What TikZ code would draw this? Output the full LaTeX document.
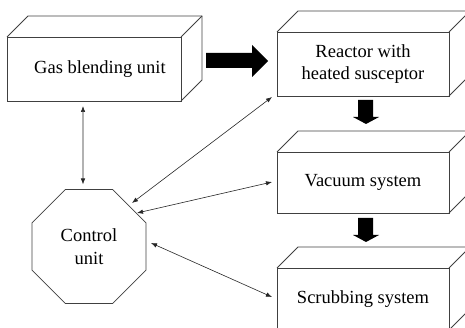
\documentclass[tikz,border=0pt]{standalone}
\usepackage{fontspec}
\setmainfont{Liberation Serif}
\usetikzlibrary{shapes.geometric,arrows.meta,calc}
\begin{document}
\begin{tikzpicture}[x=1pt,y=-1pt,
  boxline/.style={draw=black!75,line width=0.8pt},
  frontbox/.style={boxline,rectangle,inner sep=0pt,outer sep=0pt,align=center,
     font=\fontsize{18.5}{22.5}\selectfont},
  octa/.style={boxline,regular polygon,regular polygon sides=8,minimum size=123.4pt,
     inner sep=0pt,outer sep=0pt,align=center,font=\fontsize{18.5}{22.5}\selectfont},
  link/.style={draw=black!85,line width=0.6pt,{Latex[length=6pt,width=4.5pt]}-{Latex[length=6pt,width=4.5pt]}},
  blockarrow/.style={fill=black}
]
\useasboundingbox (0,0) rectangle (465,328);

% front faces
\node[frontbox,minimum width=174pt,minimum height=64pt] (gas) at (94,69) {\hspace*{12pt}Gas blending unit};
\node[frontbox,minimum width=172pt,minimum height=64pt] (reac) at (363,64) {Reactor with\\heated susceptor};
\node[frontbox,minimum width=172pt,minimum height=61pt] (vac) at (363,182.5) {\raisebox{3pt}{Vacuum system}};
\node[frontbox,minimum width=172pt,minimum height=62pt] (scrub) at (363,299) {\raisebox{-2pt}{Scrubbing system}};

% 3D top and side faces
\foreach \n in {gas,reac,vac,scrub}{
  \draw[boxline] (\n.north west) -- ++(21pt,21pt)
     -- ($(\n.north east)+(21pt,21pt)$) -- ($(\n.south east)+(21pt,21pt)$)
     -- (\n.south east);
  \draw[boxline] (\n.north east) -- ++(21pt,21pt);
}

% control unit
\node[octa] (ctrl) at (89,246.5) {Control\\unit};

% block arrows
\coordinate (bR) at (206,53);
\fill[blockarrow] (bR) -- ++(46,0) -- ++(0,-8) -- ++(16,16) -- ++(-16,16) -- ++(0,-9) -- ++(-46,0) -- cycle;
\coordinate (bD1) at (358,100);
\fill[blockarrow] (bD1) -- ++(15,0) -- ++(0,17) -- ++(6,0) -- ++(-13,7) -- ++(-13,-7) -- ++(5,0) -- cycle;
\coordinate (bD2) at (358,218);
\fill[blockarrow] (bD2) -- ++(15,0) -- ++(0,17) -- ++(6,0) -- ++(-13,7) -- ++(-13,-7) -- ++(5,0) -- cycle;

% thin double arrows
\draw[link] ([shift={(-11pt,-5pt)}]gas.south) -- ([shift={(-6pt,5pt)}]ctrl.north);
\draw[link] ([shift={(43pt,43.5pt)}]ctrl.center) -- ([shift={(-5pt,-1pt)}]reac.south west);
\draw[link] ([shift={(48pt,33.5pt)}]ctrl.center) -- ([shift={(-5pt,0.5pt)}]vac.west);
\draw[link] ([shift={(62pt,3.5pt)}]ctrl.center) -- ([shift={(-5pt,2pt)}]scrub.west);
\end{tikzpicture}
\end{document}
